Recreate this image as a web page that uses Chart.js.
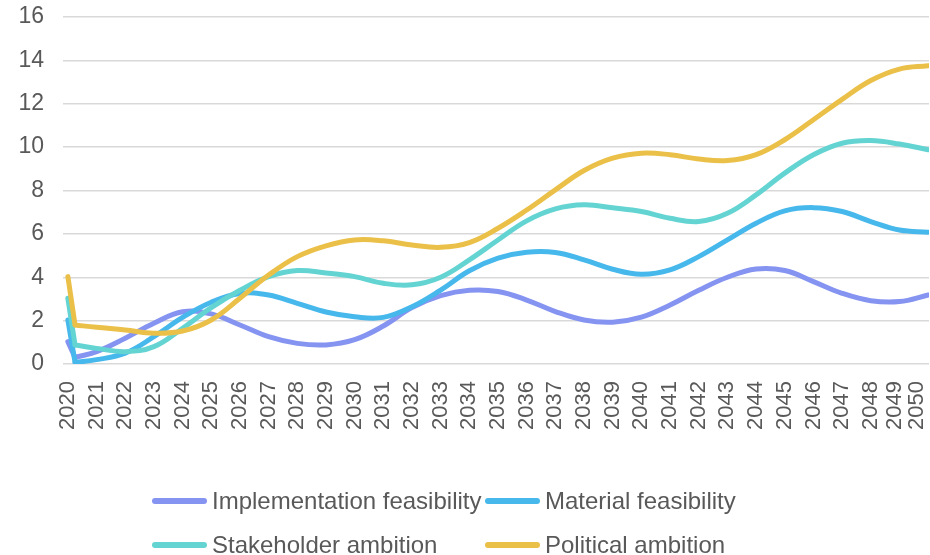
<!DOCTYPE html>
<html>
<head>
<meta charset="utf-8">
<script src="https://cdn.jsdelivr.net/npm/chart.js"></script>
<style>
  html, body { margin: 0; padding: 0; background: #fff; }
  #wrap { position: relative; width: 930px; height: 555px; overflow: hidden; }
  #legend {
    position: absolute; left: 152px; top: 488px;
    display: grid; grid-template-columns: 333px auto; row-gap: 18px;
    font-family: "Liberation Sans", Arial, sans-serif; font-size: 24px; color: #595959;
  }
  .item { display: flex; align-items: center; height: 26px; white-space: nowrap; }
  .swatch { width: 55px; height: 6px; border-radius: 3px; margin-right: 5px; }
</style>
</head>
<body>
<div id="wrap">
  <canvas id="chart" width="930" height="555"></canvas>
  <div id="legend"></div>
</div>
<script>
// x positions of the points (2020.25 is where the opening drop bottoms out)
var years = [2020, 2020.25, 2021, 2022, 2023, 2024, 2025, 2026, 2027, 2028, 2029, 2030,
  2031, 2032, 2033, 2034, 2035, 2036, 2037, 2038, 2039, 2040,
  2041, 2042, 2043, 2044, 2045, 2046, 2047, 2048, 2049, 2050];
// tick labels on the x axis
var tickYears = [2020, 2021, 2022, 2023, 2024, 2025, 2026, 2027, 2028, 2029, 2030,
  2031, 2032, 2033, 2034, 2035, 2036, 2037, 2038, 2039, 2040,
  2041, 2042, 2043, 2044, 2045, 2046, 2047, 2048, 2049, 2050];
var yTicks = [0, 2, 4, 6, 8, 10, 12, 14, 16];

var seriesNames = ["Implementation feasibility", "Material feasibility", "Stakeholder ambition", "Political ambition"];
var implementation = [1.03, 0.3, 0.57, 1.19, 1.88, 2.41, 2.31, 1.8, 1.26, 0.95, 0.88, 1.12,
  1.75, 2.6, 3.15, 3.4, 3.34, 2.95, 2.42, 2.03, 1.93, 2.16,
  2.72, 3.4, 4.0, 4.38, 4.31, 3.8, 3.26, 2.92, 2.88, 3.18];
var material = [2.03, 0.08, 0.2, 0.5, 1.26, 2.15, 2.85, 3.25, 3.18, 2.8, 2.4, 2.18,
  2.15, 2.64, 3.41, 4.3, 4.88, 5.15, 5.14, 4.8, 4.37, 4.14,
  4.34, 4.95, 5.72, 6.49, 7.06, 7.21, 7.03, 6.57, 6.18, 6.08];
var stakeholder = [3.03, 0.88, 0.72, 0.57, 0.8, 1.65, 2.6, 3.4, 4.03, 4.31, 4.2, 4.03,
  3.72, 3.65, 4.0, 4.8, 5.72, 6.6, 7.15, 7.34, 7.2, 7.03,
  6.72, 6.57, 6.95, 7.8, 8.8, 9.65, 10.18, 10.3, 10.14, 9.88];
var political = [4.03, 1.8, 1.69, 1.57, 1.42, 1.52, 2.03, 3.03, 4.1, 4.95, 5.45, 5.72,
  5.68, 5.49, 5.38, 5.6, 6.26, 7.1, 8.03, 8.92, 9.49, 9.72,
  9.65, 9.45, 9.38, 9.65, 10.34, 11.26, 12.2, 13.07, 13.6, 13.75];
var colors = ["#8593F1", "#47B8EB", "#64D4D3", "#EBC049"];

var allSeries = [implementation, material, stakeholder, political];
var font = "'Liberation Sans', Arial, sans-serif";

function toPoints(values, from, to) {
  var pts = [];
  for (var i = from; i < to; i++) pts.push({x: years[i], y: values[i]});
  return pts;
}

// each series: a straight opening drop (first two points) plus the smoothed curve after it
var datasets = [];
allSeries.forEach(function (values, i) {
  var common = {
    label: seriesNames[i],
    borderColor: colors[i],
    backgroundColor: colors[i],
    borderWidth: 5,
    pointRadius: 0,
    borderCapStyle: "round",
    borderJoinStyle: "round",
    fill: false,
    order: allSeries.length - i // later series drawn on top, like the original
  };
  datasets.push(Object.assign({}, common, {data: toPoints(values, 0, 2), tension: 0}));
  datasets.push(Object.assign({}, common, {data: toPoints(values, 1, years.length), tension: 0.4}));
});

// the last two year labels sit a bit inside the edge, as in the original
var squeezeLastLabels = {
  id: "squeezeLastLabels",
  beforeDraw: function (chart) {
    var items = chart.scales.x.getLabelItems();
    var n = items.length;
    if (n > 1) {
      items[n - 1].options.translation[0] -= 11;
      items[n - 2].options.translation[0] -= 5;
    }
  }
};

var chart = new Chart("chart", {
  type: "line",
  data: {datasets: datasets},
  plugins: [squeezeLastLabels],
  options: {
    responsive: false,
    animation: false,
    devicePixelRatio: 1,
    layout: {padding: {top: 17, right: 1, bottom: 111, left: 0}},
    plugins: {legend: {display: false}, tooltip: {enabled: false}},
    scales: {
      x: {
        type: "linear",
        min: 2019.83,
        max: 2050.03,
        afterBuildTicks: function (scale) {
          scale.ticks = tickYears.map(function (v) { return {value: v}; });
        },
        afterFit: function (scale) {
          scale.height = 80;
          scale.paddingLeft = 0;
          scale.paddingRight = 0;
        },
        grid: {display: false, drawTicks: false},
        border: {display: false},
        ticks: {
          autoSkip: false,
          minRotation: 90,
          maxRotation: 90,
          padding: 17,
          color: "#595959",
          font: {family: font, size: 22},
          callback: function (v) { return String(v); }
        }
      },
      y: {
        min: 0,
        max: 16,
        afterBuildTicks: function (scale) {
          scale.ticks = yTicks.map(function (v) { return {value: v}; });
        },
        afterFit: function (scale) {
          scale.width = 63;
          scale.paddingTop = 0;
          scale.paddingBottom = 0;
        },
        grid: {color: "#d9d9d9", lineWidth: 1.5, drawTicks: false},
        border: {display: false},
        ticks: {
          padding: 19,
          color: "#595959",
          font: {family: font, size: 23}
        }
      }
    }
  }
});

// legend laid out in two aligned columns like the original
var legend = document.getElementById("legend");
seriesNames.forEach(function (name, i) {
  var item = document.createElement("div");
  item.className = "item";
  var sw = document.createElement("span");
  sw.className = "swatch";
  sw.style.background = colors[i];
  var txt = document.createElement("span");
  txt.textContent = name;
  item.appendChild(sw);
  item.appendChild(txt);
  legend.appendChild(item);
});
</script>
</body>
</html>
